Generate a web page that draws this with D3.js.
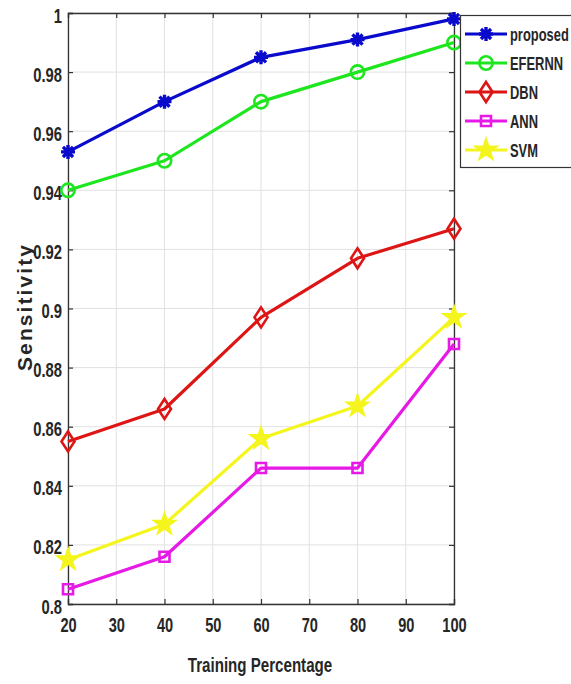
<!DOCTYPE html>
<html>
<head>
<meta charset="utf-8">
<script src="https://cdn.jsdelivr.net/npm/d3@7"></script>
<style>
  html, body { margin: 0; padding: 0; background: #fff; }
  svg { display: block; }
  .tick-label, .axis-title, .legend-text {
    font-family: "Liberation Sans", Arial, sans-serif;
    font-weight: bold;
    fill: #262626;
  }
</style>
</head>
<body>
<svg id="chart" width="571" height="684"></svg>
<script>
// Training percentages on the x axis
const trainingPct = [20, 40, 60, 80, 100];

// Sensitivity for each method
const proposed = [0.953, 0.970, 0.985, 0.991, 0.998];
const efernn   = [0.940, 0.950, 0.970, 0.980, 0.990];
const dbn      = [0.855, 0.866, 0.897, 0.917, 0.927];
const ann      = [0.805, 0.816, 0.846, 0.846, 0.888];
const svm      = [0.815, 0.827, 0.856, 0.867, 0.897];

const seriesNames = ["proposed", "EFERNN", "DBN", "ANN", "SVM"];
const seriesColors = ["#0a0acc", "#1ee61e", "#dd1515", "#e619e6", "#f5f51e"];
const seriesMarkers = ["asterisk", "circle", "diamond", "square", "star"];

const xTicks = [20, 30, 40, 50, 60, 70, 80, 90, 100];
const yTicks = [0.8, 0.82, 0.84, 0.86, 0.88, 0.9, 0.92, 0.94, 0.96, 0.98, 1];

const seriesValues = [proposed, efernn, dbn, ann, svm];
const series = seriesNames.map((name, i) => ({
  name,
  color: seriesColors[i],
  marker: seriesMarkers[i],
  points: trainingPct.map((x, j) => ({ x, y: seriesValues[i][j] }))
}));

const svg = d3.select("#chart");
const plot = { left: 68, right: 454, top: 13, bottom: 604 };

const x = d3.scaleLinear().domain([20, 100]).range([plot.left, plot.right]);
const y = d3.scaleLinear().domain([0.8, 1]).range([plot.bottom, plot.top]);

// Squeeze text horizontally (narrow face) by scaling about its own anchor x
function condense(sel, factor) {
  sel.each(function () {
    const t = d3.select(this);
    const x0 = +t.attr("x") || 0;
    const prev = t.attr("transform") || "";
    t.attr("x", x0 / factor).attr("transform", `${prev} scale(${factor},1)`);
  });
}

// Grid lines
const grid = svg.append("g");
grid.selectAll("line.gx").data(xTicks).join("line")
  .attr("x1", d => x(d)).attr("x2", d => x(d))
  .attr("y1", plot.top).attr("y2", plot.bottom)
  .attr("stroke", "#e1e1e1").attr("stroke-width", 1);
grid.selectAll("line.gy").data(yTicks).join("line")
  .attr("x1", plot.left).attr("x2", plot.right)
  .attr("y1", d => y(d)).attr("y2", d => y(d))
  .attr("stroke", "#e1e1e1").attr("stroke-width", 1);

// Axes with inward ticks on all four sides
const fmtY = d => d3.format("~g")(d);
const axisBottom = d3.axisBottom(x).tickValues(xTicks).tickSize(-5).tickPadding(14).tickFormat(d3.format("d"));
const axisTop = d3.axisTop(x).tickValues(xTicks).tickSize(-5).tickFormat("");
const axisLeft = d3.axisLeft(y).tickValues(yTicks).tickSize(-5).tickPadding(6).tickFormat(fmtY);
const axisRight = d3.axisRight(y).tickValues(yTicks).tickSize(-5).tickFormat("");

function styleAxis(g) {
  g.select(".domain").attr("stroke", "#333").attr("stroke-width", 1.3);
  g.selectAll(".tick line").attr("stroke", "#333").attr("stroke-width", 1.2);
  g.selectAll(".tick text").attr("class", "tick-label").style("font-size", "20px");
}

const gx = svg.append("g").attr("transform", `translate(0,${plot.bottom})`).call(axisBottom).call(styleAxis);
gx.selectAll(".tick text").attr("dy", "0.71em").call(condense, 0.73);
svg.append("g").attr("transform", `translate(0,${plot.top})`).call(axisTop).call(styleAxis);
const gy = svg.append("g").attr("transform", `translate(${plot.left},0)`).call(axisLeft).call(styleAxis);
gy.selectAll(".tick text").attr("dy", "0.45em").call(condense, 0.74);
svg.append("g").attr("transform", `translate(${plot.right},0)`).call(axisRight).call(styleAxis);

// Axis titles
svg.append("text").attr("class", "axis-title")
  .attr("x", 260).attr("y", 672)
  .attr("text-anchor", "middle").style("font-size", "20px")
  .text("Training Percentage")
  .call(condense, 0.755);

svg.append("text")
  .attr("transform", "translate(32,308) rotate(-90)")
  .attr("text-anchor", "middle")
  .style("font-family", "'Liberation Sans', Arial, sans-serif")
  .style("font-weight", "bold").style("font-size", "21px")
  .attr("fill", "#262626")
  .attr("textLength", 126).attr("lengthAdjust", "spacing")
  .text("Sensitivity");

// Marker shapes
function markerPath(type) {
  switch (type) {
    case "asterisk": {
      const r = 7, d = r * 0.72;
      return `M${-r},0L${r},0M0,${-r}L0,${r}M${-d},${-d}L${d},${d}M${-d},${d}L${d},${-d}`;
    }
    case "circle":
      return d3.symbol(d3.symbolCircle, 140)();
    case "diamond":
      return "M0,-10L6.5,0L0,10L-6.5,0Z";
    case "square":
      return "M-5,-5L5,-5L5,5L-5,5Z";
    case "star":
      return d3.symbol(d3.symbolStar, 115)();
  }
}

function drawMarker(sel, s) {
  sel.append("path")
    .attr("d", markerPath(s.marker))
    .attr("fill", s.marker === "star" ? s.color : "none")
    .attr("stroke", s.color)
    .attr("stroke-width", s.marker === "asterisk" ? 3.4 : 2.6)
    .attr("stroke-linejoin", "miter");
}

const line = d3.line().x(d => x(d.x)).y(d => y(d.y));

// Lines drawn bottom-up so upper series sit on top
const layers = svg.append("g");
series.slice().reverse().forEach(s => {
  const g = layers.append("g");
  g.append("path").datum(s.points)
    .attr("d", line).attr("fill", "none")
    .attr("stroke", s.color).attr("stroke-width", 3.2)
    .attr("stroke-linejoin", "round");
  g.selectAll("g.pt").data(s.points).join("g")
    .attr("transform", d => `translate(${x(d.x)},${y(d.y)})`)
    .each(function () { drawMarker(d3.select(this), s); });
});

// Legend
const legend = svg.append("g");
legend.append("rect")
  .attr("x", 460.5).attr("y", 15.5).attr("width", 120).attr("height", 152)
  .attr("fill", "#fff").attr("stroke", "#333").attr("stroke-width", 1.2);
series.forEach((s, i) => {
  const cy = 34 + i * 29;
  const row = legend.append("g");
  row.append("line").attr("x1", 465).attr("x2", 507).attr("y1", cy).attr("y2", cy)
    .attr("stroke", s.color).attr("stroke-width", 3.2);
  const m = row.append("g").attr("transform", `translate(486,${cy})`);
  drawMarker(m, s);
  row.append("text").attr("class", "legend-text")
    .attr("x", 510).attr("y", cy).attr("dy", "0.36em")
    .style("font-size", "19px")
    .text(s.name)
    .call(condense, 0.68);
});
</script>
</body>
</html>
